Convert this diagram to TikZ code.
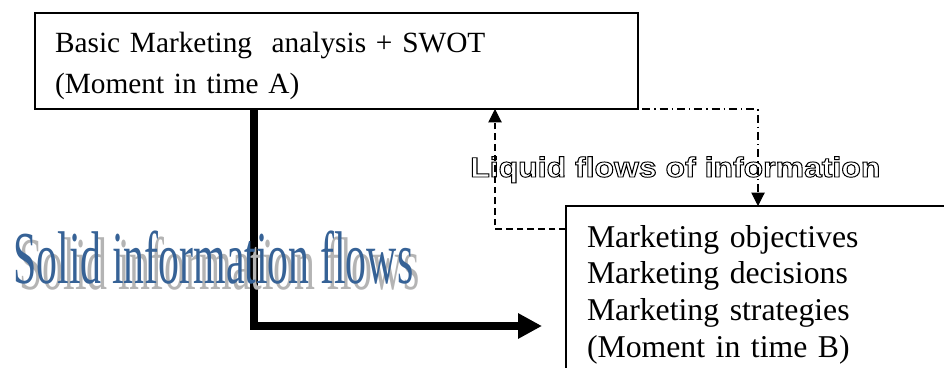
\documentclass[tikz,border=0pt]{standalone}
\usepackage{fontspec}
\setmainfont{Liberation Serif}
\setsansfont{Liberation Sans}
\usepackage{graphicx}
\usetikzlibrary{arrows.meta}

\definecolor{wordblue}{RGB}{54,98,150}
\definecolor{shadowgray}{RGB}{180,180,180}

% hollow letters (stroke only)
\newcommand{\outlinetext}[1]{\special{pdf:code 1 Tr 0.7 w}#1\special{pdf:code 0 Tr}}

\begin{document}
\begin{tikzpicture}[x=0.75pt, y=-0.75pt,
    infobox/.style={draw, line width=1pt, inner xsep=15pt, inner ysep=0pt,
        outer sep=0pt, align=left, anchor=north west},
    solidflow/.style={line width=6pt, line join=miter,
        -{Triangle[length=18pt, width=18pt]}},
    liquidflow/.style={line width=0.8pt, -{Triangle[length=10pt, width=10pt]}},
    flowlabel/.style={anchor=base west, inner sep=0pt}
]

\clip (0,0) rectangle (944,367);

% --- Boxes ---
\node[infobox, minimum width=452.25pt, minimum height=72pt, text width=422.25pt,
    text height=18.75pt, text depth=30.75pt,
    font=\fontsize{22}{30.75}\selectfont] (analysis) at (35,13)
    {Basic Marketing \ analysis + SWOT\\(Moment in time A)};
\node[infobox, inner xsep=15.75pt, text width=270pt, text height=30.75pt,
    text depth=105pt, font=\fontsize{23.8}{27.5}\selectfont] (decisions) at (566,206)
    {Marketing objectives\\Marketing decisions\\Marketing strategies\\(Moment in time B)};

% --- Solid flow ---
\coordinate (solidturn) at (254,326);
\coordinate (solidend) at (542,326);
\draw[solidflow] (solidturn |- analysis.south) -- (solidturn) -- (solidend);

% --- Liquid flows ---
\coordinate (dashturn) at (495,229);
\coordinate (dotstart) at (573,109);
\coordinate (dotturn) at (758,109);
\draw[liquidflow, dash pattern=on 5pt off 3pt] (dashturn -| decisions.west) -- (dashturn) -- (dashturn |- analysis.south);
\draw[liquidflow, dash pattern=on 6pt off 3pt on 1pt off 3pt] (dotstart) -- (dotturn) -- (dotturn |- decisions.north);

% --- Labels ---
\node[flowlabel, text=shadowgray] (solidshadow) at (19,289)
    {\resizebox{300pt}{\height}{\fontsize{56}{60}\selectfont Solid information flows}};
\node[flowlabel, text=wordblue] (solidlabel) at (13,283)
    {\resizebox{300pt}{\height}{\fontsize{56}{60}\selectfont Solid information flows}};
\node[flowlabel, font=\sffamily\bfseries\fontsize{21}{24}\selectfont] (liquidlabel) at (470,177)
    {\resizebox{307.5pt}{\height}{\outlinetext{Liquid flows of information}}};

\end{tikzpicture}
\end{document}
